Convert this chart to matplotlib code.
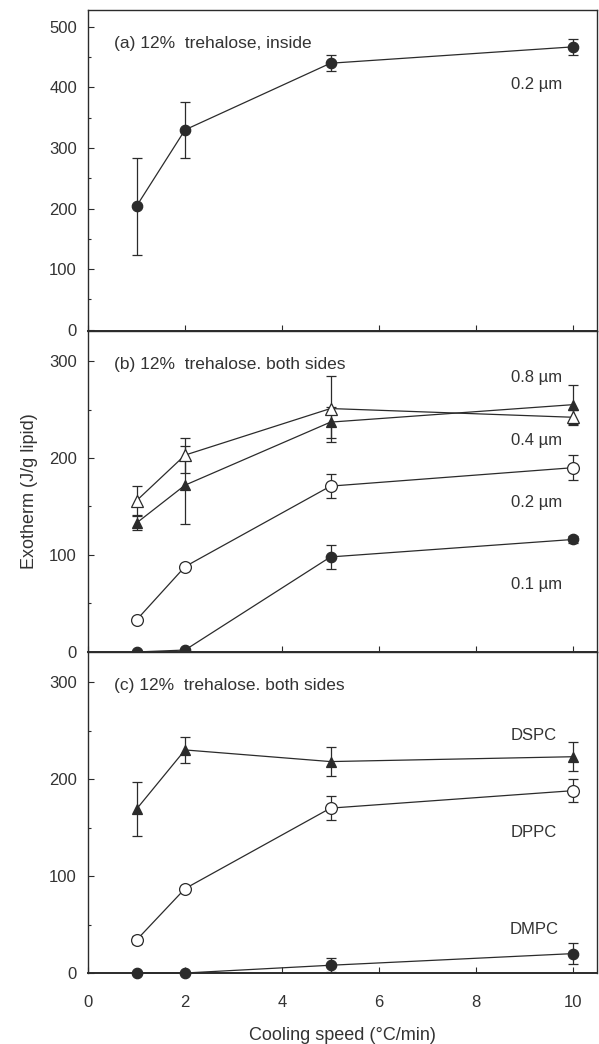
"""Exotherm vs cooling speed for trehalose-loaded liposomes, three stacked panels."""

import matplotlib

matplotlib.use("Agg")
import matplotlib.pyplot as plt
from matplotlib.ticker import MultipleLocator

plt.rcParams["font.family"] = ["Liberation Sans", "DejaVu Sans"]

INK = "#2b2b2b"
TEXT = "#333333"

speeds = [1, 2, 5, 10]

# (a) 12% trehalose, inside
a_02 = [204, 330, 440, 467]
a_02_err = [80, 46, 13, 13]

# (b) 12% trehalose, both sides (vesicle size)
b_08 = [133, 172, 237, 255]
b_08_err = [7, 40, 16, 20]
b_04 = [156, 203, 251, 242]
b_04_err = [15, 18, 34, 8]
b_02 = [33, 88, 171, 190]
b_02_err = [3, 3, 12, 13]
b_01 = [0, 2, 98, 116]
b_01_err = [1, 1, 12, 4]

# (c) 12% trehalose, both sides (lipid)
c_dspc = [169, 230, 218, 223]
c_dspc_err = [28, 13, 15, 15]
c_dppc = [34, 87, 170, 188]
c_dppc_err = [4, 3, 12, 12]
c_dmpc = [0, 0, 8, 20]
c_dmpc_err = [1, 1, 7, 11]

panel_titles = [
    "(a) 12%  trehalose, inside",
    "(b) 12%  trehalose. both sides",
    "(c) 12%  trehalose. both sides",
]
b_labels = ["0.8 µm", "0.4 µm", "0.2 µm", "0.1 µm"]
b_label_y = [283, 218, 154, 70]
c_labels = ["DSPC", "DPPC", "DMPC"]
c_label_y = [245, 145, 45]


def plot_series(ax, y, err, marker, filled, size=7.5):
    face = INK if filled else "white"
    ax.errorbar(
        speeds, y, yerr=err, color=INK, lw=0.9, elinewidth=0.9, capsize=3.5,
        capthick=0.9, marker=marker, markersize=size, markerfacecolor=face,
        markeredgecolor=INK, markeredgewidth=0.9, clip_on=False, zorder=3,
    )


fig = plt.figure(figsize=(5.99, 10.44), dpi=100)
left, width = 0.147, 0.85
height = 0.3075
bottoms = [0.068 + 2 * height, 0.068 + height, 0.068]
axes = [fig.add_axes([left, b, width, height]) for b in bottoms]
ax_a, ax_b, ax_c = axes

plot_series(ax_a, a_02, a_02_err, "o", True)
ax_a.text(9.25, 405, "0.2 µm", ha="center", va="center", fontsize=12, color=TEXT)
ax_a.set_ylim(-2, 528)
ax_a.yaxis.set_major_locator(MultipleLocator(100))
ax_a.yaxis.set_minor_locator(MultipleLocator(50))

plot_series(ax_b, b_08, b_08_err, "^", True)
plot_series(ax_b, b_04, b_04_err, "^", False, 8.5)
plot_series(ax_b, b_02, b_02_err, "o", False, 8.5)
plot_series(ax_b, b_01, b_01_err, "o", True)
for label, y in zip(b_labels, b_label_y):
    ax_b.text(9.25, y, label, ha="center", va="center", fontsize=12, color=TEXT)

plot_series(ax_c, c_dspc, c_dspc_err, "^", True)
plot_series(ax_c, c_dppc, c_dppc_err, "o", False, 8.5)
plot_series(ax_c, c_dmpc, c_dmpc_err, "o", True)
for label, y in zip(c_labels, c_label_y):
    ax_c.text(9.2, y, label, ha="center", va="center", fontsize=12, color=TEXT)

for ax in (ax_b, ax_c):
    ax.set_ylim(0, 331)
    ax.yaxis.set_major_locator(MultipleLocator(100))
    ax.yaxis.set_minor_locator(MultipleLocator(50))

for ax, title in zip(axes, panel_titles):
    ax.set_xlim(0, 10.5)
    ax.xaxis.set_major_locator(MultipleLocator(2))
    ax.text(0.05, 0.895, title, transform=ax.transAxes, ha="left", va="center",
            fontsize=12.5, color=TEXT)
    ax.tick_params(axis="both", which="both", direction="in", colors=INK,
                   labelcolor=TEXT, labelsize=12, width=0.8)
    ax.tick_params(axis="both", which="major", length=4)
    ax.tick_params(axis="both", which="minor", length=2.5)
    ax.tick_params(axis="y", pad=8)
    for spine in ax.spines.values():
        spine.set_color(INK)
        spine.set_linewidth(1.0)
    ax.spines["bottom"].set_linewidth(1.4)

ax_a.tick_params(axis="x", labelbottom=False)
ax_b.tick_params(axis="x", labelbottom=False)
ax_c.tick_params(axis="x", pad=16)

ax_b.set_ylabel("Exotherm (J/g lipid)", fontsize=13, color=TEXT, labelpad=8)
ax_c.set_xlabel("Cooling speed (°C/min)", fontsize=13, color=TEXT, labelpad=12)

fig.savefig("out.png", dpi=100)
plt.close(fig)
